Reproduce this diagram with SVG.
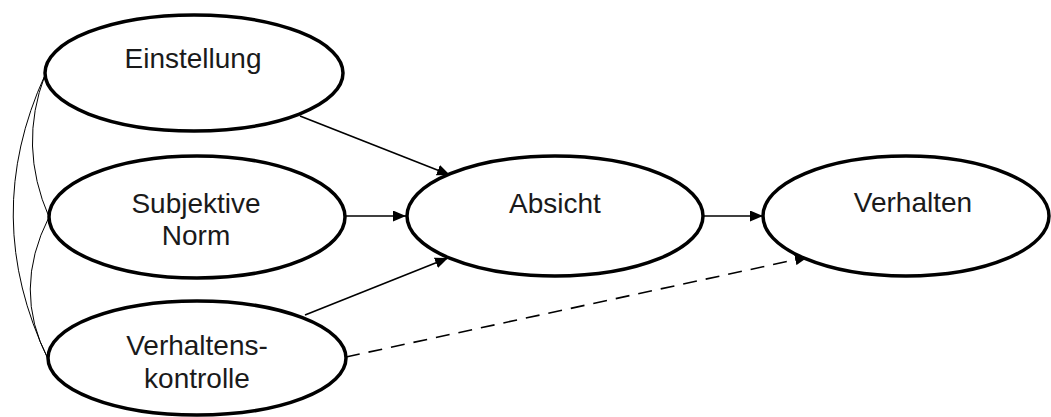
<svg xmlns="http://www.w3.org/2000/svg" width="1051" height="417" viewBox="0 0 1051 417">
<style>
.node ellipse{fill:#fff;stroke:#000;stroke-width:3.5}
.node text{font-family:"Liberation Sans",Arial,sans-serif;font-size:28px;fill:#1a1a1a;text-anchor:middle}
.conn path{fill:none;stroke:#000;stroke-width:1.6}
.corr path{fill:none;stroke:#000;stroke-width:1}
.dash{stroke-dasharray:14 9}
</style>
<defs>
<marker id="ah" viewBox="0 0 13 11" refX="13" refY="5.5" markerWidth="13" markerHeight="11" markerUnits="userSpaceOnUse" orient="auto">
<path d="M0,0 L13,5.5 L0,11 Z" fill="#000"/>
</marker>
</defs>
<rect width="1051" height="417" fill="#fff"/>
<g id="connectors">
<g class="corr">
<path d="M45,75 Q-20,217 48,359"/>
<path d="M45,75 Q18,146 49,217"/>
<path d="M49,217 Q12,290 48,359"/>
</g>
<g class="conn">
<path d="M300,116 L450,175" marker-end="url(#ah)"/>
<path d="M345,216 L406,216" marker-end="url(#ah)"/>
<path d="M305,315 L448,258" marker-end="url(#ah)"/>
<path d="M703,216 L763,216" marker-end="url(#ah)"/>
<path class="dash" d="M346,357 L808,257" marker-end="url(#ah)"/>
</g>
</g>
<g id="einstellung" class="node">
<ellipse cx="194" cy="73" rx="149" ry="58"/>
<text x="193" y="68">Einstellung</text>
</g>
<g id="subjektive-norm" class="node">
<ellipse cx="197" cy="217" rx="148" ry="61"/>
<text x="196" y="213">Subjektive</text>
<text x="196" y="245">Norm</text>
</g>
<g id="verhaltenskontrolle" class="node">
<ellipse cx="197" cy="358" rx="149" ry="57"/>
<text x="197" y="355">Verhaltens-</text>
<text x="197" y="388">kontrolle</text>
</g>
<g id="absicht" class="node">
<ellipse cx="555" cy="216" rx="148" ry="60"/>
<text x="555" y="213">Absicht</text>
</g>
<g id="verhalten" class="node">
<ellipse cx="906" cy="216" rx="143" ry="60"/>
<text x="913" y="212">Verhalten</text>
</g>
</svg>
